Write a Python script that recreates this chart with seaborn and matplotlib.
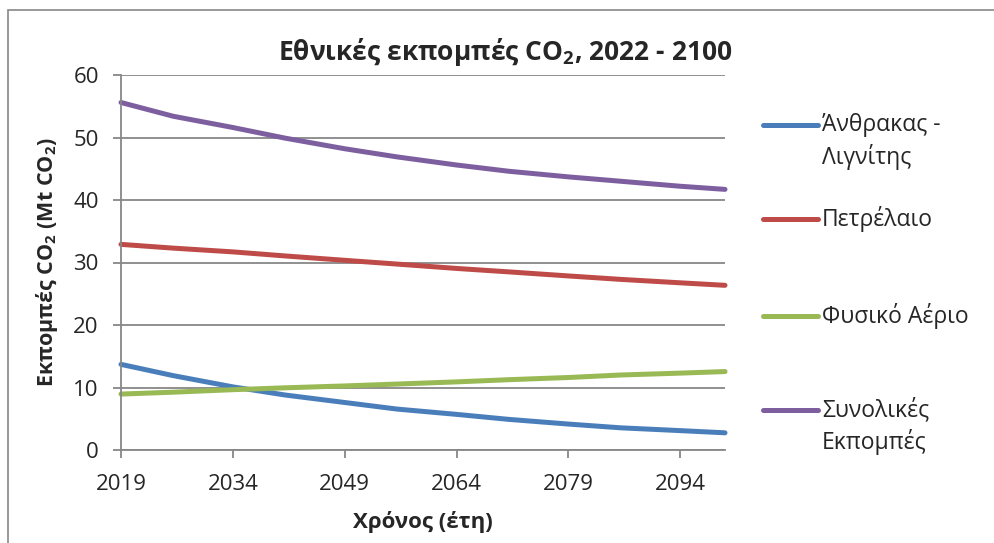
import matplotlib
matplotlib.use("Agg")
import matplotlib.pyplot as plt
import seaborn as sns
import pandas as pd
from matplotlib.lines import Line2D
from matplotlib.patches import Rectangle

# values (Mt CO2)
years = [2019, 2026, 2034, 2041, 2049, 2056, 2064, 2071, 2079, 2086, 2094, 2100]
coal = [13.7, 11.9, 10.1, 8.8, 7.6, 6.55, 5.7, 4.9, 4.15, 3.55, 3.1, 2.75]
oil = [32.9, 32.3, 31.7, 31.05, 30.35, 29.75, 29.05, 28.5, 27.85, 27.3, 26.75, 26.35]
gas = [8.95, 9.25, 9.65, 9.95, 10.25, 10.55, 10.9, 11.25, 11.6, 12.0, 12.3, 12.55]
total = [55.6, 53.4, 51.6, 49.9, 48.2, 46.9, 45.6, 44.6, 43.7, 43.0, 42.2, 41.7]

series_names = ["Άνθρακας -\nΛιγνίτης", "Πετρέλαιο", "Φυσικό Αέριο", "Συνολικές\nΕκπομπές"]
colors = ["#4A7EBB", "#BE4B48", "#98B954", "#7D5FA0"]
x_ticks = list(range(2019, 2101, 15))
y_ticks = [0, 10, 20, 30, 40, 50, 60]

df = pd.DataFrame({
    "year": years * 4,
    "value": coal + oil + gas + total,
    "series": [name for name in series_names for _ in years],
})

sns.set_style("white")
plt.rcParams['font.family'] = ['Open Sans', 'DejaVu Sans']
plt.rcParams['mathtext.fontset'] = 'custom'
plt.rcParams['mathtext.rm'] = 'Open Sans'
plt.rcParams['mathtext.bf'] = 'Open Sans:bold'

W, H = 994, 543
grey = "#878787"

fig = plt.figure(figsize=(W / 100, H / 100), dpi=100)
ax = fig.add_axes([121 / W, 1 - 450 / H, 604 / W, 375 / H])

sns.lineplot(data=df, x="year", y="value", hue="series", palette=colors,
             linewidth=3.6, legend=False, ax=ax)
for line in ax.lines:
    line.set_solid_capstyle('round')
    line.set_solid_joinstyle('round')
    line.set_clip_on(False)

ax.set_xlim(2019, 2100)
ax.set_ylim(0, 60)
ax.set_xticks(x_ticks)
ax.set_yticks(y_ticks)
ax.tick_params(axis='both', labelsize=16, color=grey, width=1.3, length=6,
               direction='out', left=True, bottom=True)
ax.tick_params(axis='y', pad=10)
ax.tick_params(axis='x', pad=11)

ax.yaxis.grid(True, color=grey, linewidth=1.3)
ax.xaxis.grid(False)
for side in ['top', 'right']:
    ax.spines[side].set_visible(False)
for side in ['left', 'bottom']:
    ax.spines[side].set_color(grey)
    ax.spines[side].set_linewidth(1.3)

ax.set_xlabel("Χρόνος (έτη)", fontsize=16, fontweight='bold')
ax.set_ylabel(r"Εκπομπές CO$_\mathbf{2}$ (Mt CO$_\mathbf{2}$)", fontsize=15.5, fontweight='bold')
ax.xaxis.label.set_va('center')
ax.yaxis.label.set_va('center')
ax.xaxis.set_label_coords(0.5, -0.192)
ax.yaxis.set_label_coords(-0.122, 0.5)

fig.text(505 / W, 1 - 52 / H, r"Εθνικές εκπομπές CO$_\mathbf{2}$, 2022 - 2100",
         ha='center', va='center', fontsize=19, fontweight='bold')

# legend on the right, drawn by hand to keep Excel-like spacing
legend_y = [125, 219, 316, 410]
for name, color, ly in zip(series_names, colors, legend_y):
    fig.add_artist(Line2D([763 / W, 818 / W], [1 - ly / H, 1 - ly / H], color=color,
                          linewidth=3.6, solid_capstyle='round'))
    for i, part in enumerate(name.split("\n")):
        fig.text(822 / W, 1 - (ly + 32 * i) / H, part, ha='left', va='center', fontsize=16.5)

# outer chart border
fig.add_artist(Rectangle((7.5 / W, -0.1), 1.2, 1 - 10.5 / H + 0.1, transform=fig.transFigure,
                         fill=False, edgecolor=grey, linewidth=1.2))

fig.savefig("out.png", dpi=100)
